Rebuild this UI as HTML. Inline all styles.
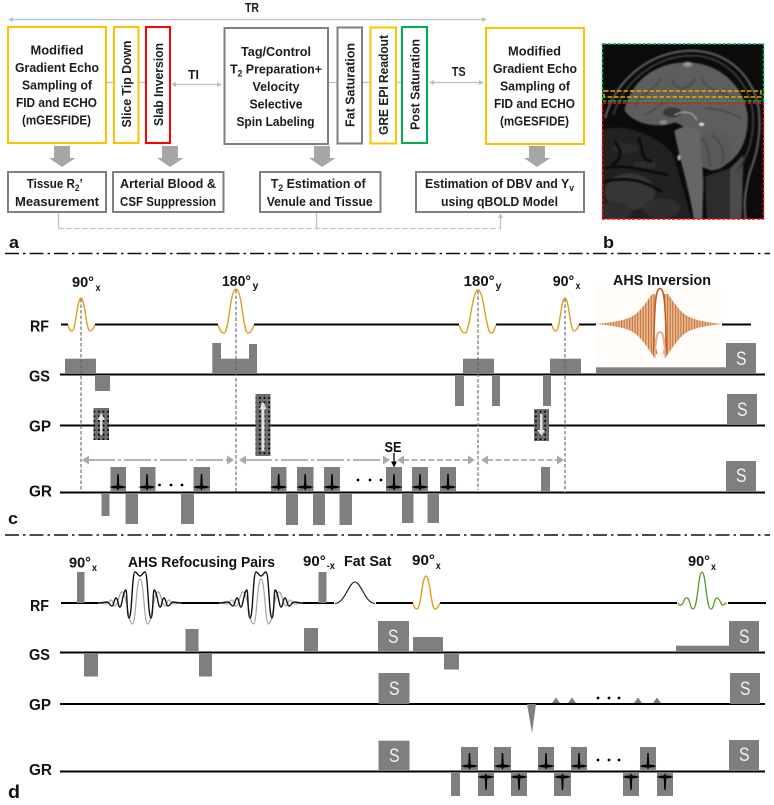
<!DOCTYPE html>
<html><head><meta charset="utf-8"><style>
html,body{margin:0;padding:0;background:#fff;width:774px;height:805px;overflow:hidden}
svg{display:block;filter:blur(.35px)}
text{font-family:"Liberation Sans",sans-serif;font-weight:bold;fill:#1c1c1c;font-size:13px}
.l{font-size:16px;fill:#111}.t{font-size:14.5px;fill:#111}.s{font-size:10px;fill:#111}
.g rect,rect.g{fill:#7f7f7f}
.S{fill:#f2f2f2;font-size:19px;font-weight:normal}
</style></head><body>
<svg width="774" height="805" viewBox="0 0 774 805" xmlns="http://www.w3.org/2000/svg">
<defs>
<filter id="bl" x="-5%" y="-5%" width="110%" height="110%" color-interpolation-filters="sRGB"><feGaussianBlur stdDeviation="2.5"/></filter>
<clipPath id="mri"><rect x="602" y="44" width="162" height="175"/></clipPath>
<pattern id="dot" patternUnits="userSpaceOnUse" width="4.6" height="4.6"><rect width="4.6" height="4.6" fill="#6e6e6e"/><circle cx="2.3" cy="2.3" r="1" fill="#000"/></pattern>
<pattern id="stripe" patternUnits="userSpaceOnUse" width="2.7" height="10"><rect width="2.7" height="10" fill="#e9bc9c"/><rect width="1.100" height="10" fill="#c9702f"/></pattern>
<polygon id="e" points="-8.5,-5 -5,-6 -1.200,-6.500 -.7,-18 .7,-18 1.200,-6.500 5,-6 8.500,-5 5,-3.800 1,-3.500 0,-1 -1,-3.500 -5,-3.800" fill="#000"/>
<polygon id="n" points="-8.5,5 -5,6 -1.200,6.500 -.7,18 .7,18 1.200,6.500 5,6 8.500,5 5,3.800 1,3.500 0,1 -1,3.500 -5,3.800" fill="#000"/>
<g id="ahsG" fill="none" stroke="#a6a6a6" stroke-width="1.200">
<path d="M-42 0 C-38 0 -36 1 -33 1 C-31 1 -31 -3 -29 -3 C-27 -3 -27 3 -25 3 C-22 3 -21 -11 -18 -11 C-13 -11 -12 21 -7.500 21 C-4 21 -4 -24 0 -24 C4 -24 4 21 7.500 21 C12 21 13 -11 18 -11 C21 -11 22 3 25 3 C27 3 27 -3 29 -3 C31 -3 31 1 33 1 C36 1 38 0 42 0"/>
</g>
<g id="ahsK" fill="none" stroke="#111" stroke-width="1.400">
<path d="M-42 0 C-38 0 -35 -1 -33 -1 C-31 -1 -30 3 -28 3 C-26 3 -26 -5 -24 -5 C-22 -5 -22 4 -20 4 C-18 4 -17 -13 -14 -13 C-13 -13 -13 15 -11 15 C-8 15 -8 -31 -5 -31 C-3 -31 -2 -27 0 -27 C2 -27 3 -31 5 -31 C8 -31 8 15 11 15 C13 15 13 -13 14 -13 C17 -13 18 4 20 4 C22 4 22 -5 24 -5 C26 -5 26 3 28 3 C30 3 31 -1 33 -1 C35 -1 38 0 42 0"/>
</g>
</defs>

<!-- PANEL A -->
<g fill="none" stroke="#bfbfbf" stroke-width="1.200">
<path d="M10 19.500H485"/>
<path d="M106 82.500H114M138 82.500H146M328 82.500H337M362 82.500H370M396 82.500H402"/>
<path d="M173 84.500H220M431 82.500H482"/>
<path d="M58.500 212V228.500M316.500 212V228.500"/>
<path d="M58.500 228.500H500.500" stroke-dasharray="5 3"/>
<path d="M500.500 228.500V216"/>
</g>
<g fill="#bfbfbf">
<polygon points="8,19.500 13,17 13,22"/><polygon points="487,19.500 482,17 482,22"/>
<polygon points="171,84.500 176,82 176,87"/><polygon points="222,84.500 217,82 217,87"/>
<polygon points="429,82.500 434,80 434,85"/><polygon points="484,82.500 479,80 479,85"/>
<polygon points="500.500,213 498,218 503,218"/>
</g>
<g fill="#fff" stroke-width="2">
<rect x="8" y="27" width="98" height="116" stroke="#ffc000"/>
<rect x="114" y="27" width="24.500" height="116" stroke="#ffc000"/>
<rect x="146" y="27" width="24" height="116" stroke="#ff0000"/>
<rect x="224.500" y="28" width="103.500" height="116" stroke="#7f7f7f"/>
<rect x="337.500" y="27.500" width="24.500" height="116" stroke="#7f7f7f"/>
<rect x="370.500" y="27.500" width="25.500" height="116" stroke="#ffc000"/>
<rect x="402" y="27" width="25" height="116" stroke="#00b050"/>
<rect x="486" y="28" width="98" height="116" stroke="#ffc000"/>
<rect x="8" y="172" width="98" height="40" stroke="#7f7f7f"/>
<rect x="113" y="172" width="110.500" height="40" stroke="#7f7f7f"/>
<rect x="260" y="172" width="120.500" height="40" stroke="#7f7f7f"/>
<rect x="416" y="172" width="168" height="40" stroke="#7f7f7f"/>
</g>
<g fill="#a6a6a6">
<polygon points="54,146 70,146 70,158 75.500,158 62,167 49,158 54,158"/>
<polygon points="162,146 178,146 178,158 183.500,158 170,167 157,158 162,158"/>
<polygon points="314,146 330,146 330,158 335.500,158 322,167 309,158 314,158"/>
<polygon points="529,146 545,146 545,158 550.500,158 537,167 524,158 529,158"/>
</g>
<text lengthAdjust="spacingAndGlyphs" x="245" y="12" textLength="14">TR</text>
<text lengthAdjust="spacingAndGlyphs" x="188" y="79" textLength="11">TI</text>
<text lengthAdjust="spacingAndGlyphs" x="451.700" y="76" textLength="14">TS</text>

<text lengthAdjust="spacingAndGlyphs" x="30.500" y="54.500" textLength="53">Modified</text>
<text lengthAdjust="spacingAndGlyphs" x="15" y="72" textLength="84">Gradient Echo</text>
<text lengthAdjust="spacingAndGlyphs" x="22" y="89.500" textLength="70">Sampling of</text>
<text lengthAdjust="spacingAndGlyphs" x="16" y="107" textLength="81">FID and ECHO</text>
<text lengthAdjust="spacingAndGlyphs" x="22" y="124.500" textLength="69">(mGESFIDE)</text>

<text lengthAdjust="spacingAndGlyphs" x="241" y="56" textLength="70">Tag/Control</text>
<text lengthAdjust="spacingAndGlyphs" x="230" y="73.500" textLength="92">T<tspan font-size="9" dy="3">2</tspan><tspan dy="-3"> Preparation+</tspan></text>
<text lengthAdjust="spacingAndGlyphs" x="252.500" y="91" textLength="47">Velocity</text>
<text lengthAdjust="spacingAndGlyphs" x="249.500" y="108.500" textLength="53">Selective</text>
<text lengthAdjust="spacingAndGlyphs" x="236.500" y="126" textLength="78">Spin Labeling</text>

<text lengthAdjust="spacingAndGlyphs" x="508" y="55.500" textLength="53">Modified</text>
<text lengthAdjust="spacingAndGlyphs" x="493" y="73" textLength="84">Gradient Echo</text>
<text lengthAdjust="spacingAndGlyphs" x="500" y="90.500" textLength="70">Sampling of</text>
<text lengthAdjust="spacingAndGlyphs" x="494" y="108" textLength="81">FID and ECHO</text>
<text lengthAdjust="spacingAndGlyphs" x="500" y="125.500" textLength="69">(mGESFIDE)</text>

<text lengthAdjust="spacingAndGlyphs" transform="translate(131,127.500) rotate(-90)" textLength="87">Slice Tip Down</text>
<text lengthAdjust="spacingAndGlyphs" transform="translate(163,126) rotate(-90)" textLength="83">Slab Inversion</text>
<text lengthAdjust="spacingAndGlyphs" transform="translate(354.500,127) rotate(-90)" textLength="84">Fat Saturation</text>
<text lengthAdjust="spacingAndGlyphs" transform="translate(388,135) rotate(-90)" textLength="100">GRE EPI Readout</text>
<text lengthAdjust="spacingAndGlyphs" transform="translate(419.500,130) rotate(-90)" textLength="91">Post Saturation</text>

<text lengthAdjust="spacingAndGlyphs" x="26.700" y="188" textLength="56">Tissue R<tspan font-size="9" dy="3">2</tspan><tspan dy="-3">’</tspan></text>
<text lengthAdjust="spacingAndGlyphs" x="15" y="206" textLength="84">Measurement</text>
<text lengthAdjust="spacingAndGlyphs" x="120" y="188" textLength="96">Arterial Blood &amp;</text>
<text lengthAdjust="spacingAndGlyphs" x="120" y="206" textLength="96">CSF Suppression</text>
<text lengthAdjust="spacingAndGlyphs" x="270.700" y="188" textLength="95">T<tspan font-size="9" dy="3">2</tspan><tspan dy="-3"> Estimation of</tspan></text>
<text lengthAdjust="spacingAndGlyphs" x="266.700" y="206" textLength="106">Venule and Tissue</text>
<text lengthAdjust="spacingAndGlyphs" x="425" y="188" textLength="149">Estimation of DBV and Y<tspan font-size="9" dy="3">v</tspan></text>
<text lengthAdjust="spacingAndGlyphs" x="441" y="206" textLength="117">using qBOLD Model</text>

<!-- MRI -->
<rect x="602" y="44" width="162" height="175" fill="#0b0b0b"/>
<g clip-path="url(#mri)"><g transform="translate(595,35) scale(.33333)" filter="url(#bl)">
<path d="M20 285 C90 262 190 300 235 360 L290 552 L20 552Z" fill="#212121"/>
<ellipse cx="105" cy="470" rx="75" ry="55" fill="#363636"/><ellipse cx="60" cy="530" rx="50" ry="30" fill="#2e2e2e"/><ellipse cx="200" cy="520" rx="55" ry="30" fill="#2e2e2e"/>
<ellipse cx="90" cy="340" rx="40" ry="16" fill="#2a2a2a"/><ellipse cx="150" cy="390" rx="35" ry="12" fill="#2c2c2c"/>
<path d="M30 400 C80 385 140 405 220 420M25 440 C80 430 130 425 200 470M60 320 C90 360 70 380 50 390M130 310 C150 340 130 370 170 380" fill="none" stroke="#0a0a0a" stroke-width="8"/>
<path d="M330 425 L420 395 L420 552 L335 552Z" fill="#2c2c2c"/>
<path d="M405 400 L445 360 L440 552 L405 552Z" fill="#4c4c4c"/>
<path d="M30 250 C62 130 170 47 290 47 C400 47 482 130 492 230 C498 300 485 360 465 410 C450 470 445 510 452 552" fill="none" stroke="#585858" stroke-width="7"/>
<path d="M55 240 C90 130 190 62 290 62 C390 62 462 140 474 235 C478 300 462 360 425 410" fill="none" stroke="#3a3a3a" stroke-width="6"/>
<path d="M88 225 C110 130 190 80 280 82 C380 85 450 160 458 240 C462 320 430 385 350 407 L318 395 C310 340 300 285 240 262 C180 285 110 262 88 225Z" fill="#5e5e5e"/>
<ellipse cx="355" cy="345" rx="55" ry="60" fill="#5a5a5a"/>
<path d="M238 288 C260 272 300 268 315 295 C318 340 322 390 325 440 L322 552 L296 552 C285 470 255 380 238 288Z" fill="#666"/>
<path d="M120 210 C150 170 180 160 200 130M230 130 C240 170 280 170 300 130M320 130 C340 170 380 170 420 190M150 240 C190 220 190 200 230 200M330 220 C370 220 400 230 440 250M350 300 C380 320 390 350 380 390M320 310 C350 350 340 370 345 395" fill="none" stroke="#484848" stroke-width="5"/>
<ellipse cx="232" cy="232" rx="28" ry="15" fill="#383838"/>
<path d="M240 240 C265 225 295 230 305 255" fill="none" stroke="#aaa" stroke-width="4"/>
<ellipse cx="278" cy="88" rx="14" ry="8" fill="#909090"/>
<ellipse cx="320" cy="268" rx="8" ry="5" fill="#ddd"/><ellipse cx="205" cy="262" rx="11" ry="8" fill="#888"/><ellipse cx="252" cy="368" rx="5" ry="9" fill="#aaa"/>
</g></g>
<g fill="none" stroke-width="1.500">
<rect x="602.500" y="44" width="161" height="57" stroke="#00b050" stroke-dasharray="3.500 1.500"/>
<rect x="602.500" y="103" width="161" height="116" stroke="#f01010" stroke-dasharray="3.500 1.500"/>
<rect x="604" y="91" width="157" height="6" stroke="#e6ac00" stroke-dasharray="4.500 2"/>
</g>

<text lengthAdjust="spacingAndGlyphs" class="l" x="9" y="248" textLength="10" style="font-size:17px">a</text>
<text lengthAdjust="spacingAndGlyphs" class="l" x="603" y="248" textLength="11" style="font-size:17px">b</text>
<path d="M5 253.500H770M5 535H770" stroke="#111" stroke-width="1.400" stroke-dasharray="14 4 2.500 4" fill="none"/>

<!-- PANEL C -->
<text lengthAdjust="spacingAndGlyphs" class="l" x="30" y="331.700" textLength="19">RF</text>
<text lengthAdjust="spacingAndGlyphs" class="l" x="29" y="381.700" textLength="21">GS</text>
<text lengthAdjust="spacingAndGlyphs" class="l" x="29" y="431.700" textLength="22">GP</text>
<text lengthAdjust="spacingAndGlyphs" class="l" x="29" y="496.700" textLength="23">GR</text>
<text lengthAdjust="spacingAndGlyphs" class="l" x="8" y="524" textLength="10" style="font-size:17px">c</text>
<text lengthAdjust="spacingAndGlyphs" class="t" x="72" y="287" textLength="22">90°</text><text lengthAdjust="spacingAndGlyphs" class="s" x="95.500" y="291" textLength="5">x</text>
<text lengthAdjust="spacingAndGlyphs" class="t" x="222" y="286" textLength="29">180°</text><text lengthAdjust="spacingAndGlyphs" class="s" x="252.500" y="289" textLength="6">y</text>
<text lengthAdjust="spacingAndGlyphs" class="t" x="463.700" y="286" textLength="31">180°</text><text lengthAdjust="spacingAndGlyphs" class="s" x="495.500" y="289" textLength="6">y</text>
<text lengthAdjust="spacingAndGlyphs" class="t" x="552.700" y="286" textLength="21.500">90°</text><text lengthAdjust="spacingAndGlyphs" class="s" x="575.500" y="289" textLength="5">x</text>
<rect x="596" y="285" width="126" height="78" fill="#fffcfa"/>
<text lengthAdjust="spacingAndGlyphs" class="t" x="613" y="285" textLength="98">AHS Inversion</text>

<path d="M61 324.500H68M95 324.500H218M254 324.500H459M496 324.500H552M579 324.500H596M722 324.500H751M60 374.500H765M60 425.500H765M60 492.500H765" stroke="#000" stroke-width="2" fill="none"/>
<g fill="none" stroke="#dca11f" stroke-width="1.400">
<path d="M68 325 C69 329 70 331 72 331 C76 331 77 298 81 298 C85 298 86 331 90 331 C92 331 93 329 95 325"/>
<path d="M218 325 C220 330 221 333 224 333 C229 333 230 289 236 289 C242 289 243 333 248 333 C251 333 252 330 254 325"/>
<path d="M459 325 C461 330 462 333 465 333 C470 333 472 290 478 290 C484 290 486 333 491 333 C494 333 494 330 496 325"/>
<path d="M552 325 C553 329 554 331 556 331 C560 331 561 298 565 298 C569 298 570 331 574 331 C576 331 577 329 579 325"/>
</g>
<path d="M596 324 C615 322 630 320 638 312 C645 305 649 298 652 294 L668 294 C671 298 675 305 682 312 C690 320 705 322 722 324 C705 326 690 328 682 336 C675 343 671 350 668 354 L652 354 C649 350 645 343 638 336 C630 328 615 326 596 324Z" fill="url(#stripe)"/>
<ellipse cx="660" cy="324" rx="5.500" ry="33" fill="#fff"/>
<path d="M653.500 356 C654.500 300 656 288.500 660 288.500 C664 288.500 665.500 300 666.500 356" fill="none" stroke="#c55a11" stroke-width="1.500"/>
<path d="M654.500 358 C656 336 657 332 660 332 C663 332 664 336 665.500 358" fill="none" stroke="#e0b090" stroke-width="2"/>

<g class="g">
<rect x="65" y="358.700" width="31" height="15.300"/><rect x="95" y="375" width="15" height="16"/>
<rect x="212.300" y="343" width="8.700" height="31"/><rect x="221" y="358.700" width="28" height="15.300"/><rect x="249" y="344" width="8" height="30"/>
<rect x="455" y="375" width="9" height="31"/><rect x="463" y="358.700" width="31" height="15.300"/><rect x="492" y="375" width="8" height="31"/>
<rect x="550" y="358.700" width="31" height="15.300"/><rect x="543" y="375" width="8" height="31"/>
<rect x="596" y="367.300" width="130" height="6.700"/><rect x="726" y="343" width="30" height="31"/>
<rect x="727" y="394" width="30" height="31"/><rect x="726" y="461" width="30" height="31"/>
<rect x="110.500" y="467" width="15.500" height="25"/><rect x="140" y="467" width="15.500" height="25"/><rect x="193.500" y="467" width="16.500" height="25"/>
<rect x="271" y="467" width="15.500" height="25"/><rect x="297" y="467" width="16.500" height="25"/><rect x="324" y="467" width="16" height="25"/>
<rect x="386" y="467" width="16" height="25"/><rect x="412" y="467" width="16" height="25"/><rect x="440" y="467" width="16" height="25"/><rect x="541" y="467" width="9" height="25"/>
<rect x="101.500" y="493" width="8" height="23"/><rect x="125.500" y="493" width="12.500" height="31"/><rect x="181" y="493" width="13" height="31"/>
<rect x="286" y="493" width="12" height="32"/><rect x="313" y="493" width="12" height="32"/><rect x="339.500" y="493" width="12.500" height="32"/>
<rect x="402" y="493" width="11.500" height="30"/><rect x="427.500" y="493" width="11.500" height="30"/>
</g>
<text lengthAdjust="spacingAndGlyphs" class="S" x="736" y="365" textLength="10.500">S</text>
<text lengthAdjust="spacingAndGlyphs" class="S" x="737" y="416" textLength="10.500">S</text>
<text lengthAdjust="spacingAndGlyphs" class="S" x="736" y="482" textLength="10.500">S</text>

<rect x="93.500" y="408" width="15.500" height="32" fill="url(#dot)"/>
<rect x="255.500" y="394" width="15" height="62" fill="url(#dot)"/>
<rect x="534" y="409" width="15" height="32" fill="url(#dot)"/>
<g fill="#e2e2e2" stroke="none">
<rect x="100" y="418" width="2.500" height="17"/><polygon points="101.300,413 97.500,420 105,420"/>
<rect x="261.500" y="403" width="3" height="48"/><polygon points="263,402 259.500,409 266.500,409"/>
<rect x="540" y="414" width="2.500" height="18"/><polygon points="541.300,436 537.500,430 545,430"/>
</g>

<g fill="none" stroke="#666" stroke-width="1.100" stroke-dasharray="3.500 2">
<path d="M81 299V490M236 290V492M478 291V490M565 299V494"/>
</g>
<g fill="none" stroke="#a9a9a9" stroke-width="1.800">
<path d="M88 460H228M245 460H385" stroke-dasharray="27 3 3 3"/>
<path d="M403 460H470M487 460H558" stroke-dasharray="6 2.500"/>
</g>
<g fill="#a9a9a9">
<polygon points="82,460 89,455.500 89,464.500"/><polygon points="234,460 227,455.500 227,464.500"/>
<polygon points="239,460 246,455.500 246,464.500"/><polygon points="390,460 383,455.500 383,464.500"/>
<polygon points="397,460 404,455.500 404,464.500"/><polygon points="475,460 468,455.500 468,464.500"/>
<polygon points="481,460 488,455.500 488,464.500"/><polygon points="564,460 557,455.500 557,464.500"/>
</g>
<text lengthAdjust="spacingAndGlyphs" class="t" x="384.500" y="452" textLength="17" style="font-size:15px">SE</text>
<path d="M394 453V463" stroke="#000" stroke-width="1.300"/><polygon points="394,467.500 391,461.500 397,461.500" fill="#000"/>
<use href="#e" x="118" y="492"/><use href="#e" x="147" y="492"/><use href="#e" x="201.500" y="492"/>
<use href="#e" x="278.700" y="492"/><use href="#e" x="305.200" y="492"/><use href="#e" x="332" y="492"/>
<use href="#e" x="394" y="492"/><use href="#e" x="420" y="492"/><use href="#e" x="448" y="492"/>
<g fill="#000"><circle cx="159.500" cy="485" r="1.400"/><circle cx="171" cy="485" r="1.400"/><circle cx="182" cy="485" r="1.400"/>
<circle cx="358" cy="480" r="1.400"/><circle cx="370" cy="480" r="1.400"/><circle cx="381" cy="480" r="1.400"/></g>

<!-- PANEL D -->
<text lengthAdjust="spacingAndGlyphs" class="l" x="30" y="611" textLength="19">RF</text>
<text lengthAdjust="spacingAndGlyphs" class="l" x="29" y="660" textLength="21">GS</text>
<text lengthAdjust="spacingAndGlyphs" class="l" x="29" y="710" textLength="22">GP</text>
<text lengthAdjust="spacingAndGlyphs" class="l" x="29" y="775" textLength="23">GR</text>
<text lengthAdjust="spacingAndGlyphs" class="l" x="8" y="798" textLength="12" style="font-size:18px">d</text>

<text lengthAdjust="spacingAndGlyphs" class="t" x="69" y="567.500" textLength="22">90°</text><text lengthAdjust="spacingAndGlyphs" class="s" x="92" y="571" textLength="5">x</text>
<text lengthAdjust="spacingAndGlyphs" class="t" x="128" y="567" textLength="147">AHS Refocusing Pairs</text>
<text lengthAdjust="spacingAndGlyphs" class="t" x="303" y="566" textLength="22.700">90°</text><text lengthAdjust="spacingAndGlyphs" class="s" x="326.700" y="569" textLength="8.300">-x</text>
<text lengthAdjust="spacingAndGlyphs" class="t" x="344" y="566" textLength="47.500">Fat Sat</text>
<text lengthAdjust="spacingAndGlyphs" class="t" x="412" y="565" textLength="23">90°</text><text lengthAdjust="spacingAndGlyphs" class="s" x="435.700" y="569" textLength="5">x</text>
<text lengthAdjust="spacingAndGlyphs" class="t" x="688" y="566" textLength="22">90°</text><text lengthAdjust="spacingAndGlyphs" class="s" x="711" y="570" textLength="5">x</text>

<path d="M61 603H98M181 603H219M303 603H334M376 603H413M440 603H677M728 603H766M60 652.500H765M60 704H765M60 771.500H765" stroke="#000" stroke-width="2" fill="none"/>
<g class="g"><rect x="77" y="572" width="7.500" height="31"/><rect x="318.500" y="572" width="8" height="31"/></g>
<use href="#ahsG" x="140" y="603"/><use href="#ahsK" x="140" y="603"/>
<use href="#ahsG" x="261" y="603"/><use href="#ahsK" x="261" y="603"/>
<path d="M335 603.500 C345 603 349 582 355 582 C361 582 365 603 375 603.500" fill="none" stroke="#111" stroke-width="1.100"/>
<path d="M413 603 C414 607 415 609 417 609 C421 609 422 576 426 576 C430 576 431 609 435 609 C437 609 438 607 440 603" fill="none" stroke="#dca11f" stroke-width="1.400"/>
<path d="M678 603 C680 607 681 605 683 603 C685 598 685 598 687 598 C690 598 690 609 693 609 C698 609 698 572 702 572 C706 572 706 609 711 609 C714 609 714 598 717 598 C720 598 721 606 723 605 C725 604 726 603 727 603" fill="none" stroke="#5b9a2e" stroke-width="1.300"/>

<g class="g">
<rect x="84" y="653" width="14" height="23.500"/><rect x="185.500" y="629" width="13" height="23"/><rect x="199" y="653" width="13" height="23.500"/><rect x="304" y="628" width="14" height="24"/>
<rect x="378" y="621" width="31" height="31"/><rect x="413" y="637" width="30" height="15"/><rect x="444" y="653" width="15" height="16.500"/>
<rect x="676" y="645.700" width="53" height="6.300"/><rect x="729" y="621" width="30" height="31"/>
<rect x="378.500" y="673" width="31" height="31"/><rect x="730" y="673" width="30" height="31"/>
<rect x="378.500" y="740.700" width="31" height="30.300"/><rect x="729" y="740" width="30" height="31"/>
<rect x="461" y="747" width="17" height="24"/><rect x="494" y="747" width="17" height="24"/><rect x="538" y="747" width="16" height="24"/><rect x="571" y="747" width="16" height="24"/><rect x="640" y="747" width="16" height="24"/>
<rect x="451" y="772" width="9" height="24"/><rect x="478" y="772" width="16" height="24"/><rect x="511" y="772" width="16" height="24"/><rect x="554" y="772" width="17" height="24"/><rect x="623" y="772" width="16" height="24"/><rect x="657" y="772" width="16" height="24"/>
</g>
<text lengthAdjust="spacingAndGlyphs" class="S" x="388" y="643" textLength="10.500">S</text>
<text lengthAdjust="spacingAndGlyphs" class="S" x="739" y="643" textLength="10.500">S</text>
<text lengthAdjust="spacingAndGlyphs" class="S" x="389" y="695" textLength="10.500">S</text>
<text lengthAdjust="spacingAndGlyphs" class="S" x="740" y="695" textLength="10.500">S</text>
<text lengthAdjust="spacingAndGlyphs" class="S" x="389" y="762" textLength="10.500">S</text>
<text lengthAdjust="spacingAndGlyphs" class="S" x="739" y="761" textLength="10.500">S</text>
<g fill="#7f7f7f">
<polygon points="527,704 536,704 532,733"/>
<polygon points="552,703 560,703 556,697.500"/><polygon points="568,703 576,703 572,697.500"/>
<polygon points="634,703 642,703 638,697.500"/><polygon points="653,703 661,703 657,697.500"/>
</g>
<g fill="#000">
<circle cx="598" cy="698" r="1.400"/><circle cx="609" cy="698" r="1.400"/><circle cx="619" cy="698" r="1.400"/>
<circle cx="598" cy="760" r="1.400"/><circle cx="609" cy="760" r="1.400"/><circle cx="619" cy="760" r="1.400"/>
</g>
<use href="#e" x="469.500" y="771"/><use href="#e" x="502.500" y="771"/><use href="#e" x="546" y="771"/><use href="#e" x="579" y="771"/><use href="#e" x="648" y="771"/>
<use href="#n" x="486" y="772"/><use href="#n" x="519" y="772"/><use href="#n" x="562.500" y="772"/><use href="#n" x="631" y="772"/><use href="#n" x="665" y="772"/>
</svg>
</body></html>
